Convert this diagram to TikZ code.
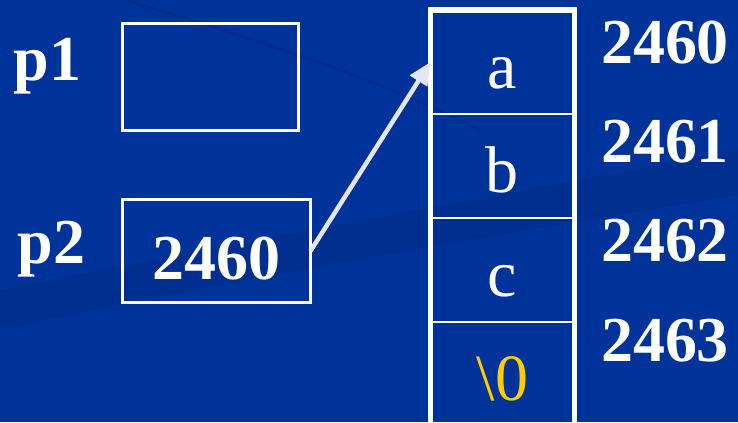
\documentclass[tikz,border=0pt]{standalone}
\usepackage{fontspec}
\setmainfont{Liberation Serif}
\usetikzlibrary{positioning,arrows.meta}
\definecolor{slideblue}{RGB}{0,51,153}
\definecolor{swooshblue}{RGB}{0,40,130}
\definecolor{arrowlav}{RGB}{230,230,250}
\definecolor{nulgold}{RGB}{255,204,0}

\begin{document}
\begin{tikzpicture}[x=0.025cm, y=-0.025cm,
  every node/.style={text=white},
  big/.style={font=\fontsize{45.5pt}{50pt}\selectfont\bfseries},
  ptrbox/.style={draw=white, line width=2.1pt, inner sep=0pt, outer sep=0pt, text height=1.99cm, text depth=0.59cm},
  cell/.style={draw=white, line width=1.4pt, inner sep=0pt, outer sep=0pt, minimum width=3.6cm, minimum height=2.6cm, text height=1.95cm, text depth=0.65cm, font=\fontsize{47pt}{50pt}\selectfont}]
% Background
\fill[slideblue] (0,0) rectangle (738,422);
\useasboundingbox (0,0) rectangle (738,422);
\fill[swooshblue, opacity=0.35] (0,330) .. controls (250,275) and (500,235) .. (738,195)
  -- (738,150) .. controls (500,195) and (250,240) .. (0,290) -- cycle;
\draw[swooshblue, line width=2pt, opacity=0.5] (125,0) .. controls (260,40) and (380,80) .. (480,130);
% Pointers
\node[ptrbox, minimum width=4.4cm, minimum height=2.675cm] (p1box) at (210.5,77) {};
\node[ptrbox, big, minimum width=4.7cm] (p2box) at (216.5,251) {2460};
\node[big, anchor=base] (p1) at (47.5,80) {p1};
\node[big, anchor=base] (p2) at (51.5,263) {p2};
% Memory cells
\node[cell] (m1) at (502.5,62) {a};
\node[cell, below=0pt of m1] (m2) {b};
\node[cell, below=0pt of m2] (m3) {c};
\node[cell, below=0pt of m3, text=nulgold] (m4) {\textbackslash 0};
\draw[white, line width=3.6pt] (m1.north west) rectangle (m4.south east);
% Addresses
\node[big, anchor=base] (a0) at (665,63) {2460};
\node[big, anchor=base] (a1) at (665,162) {2461};
\node[big, anchor=base] (a2) at (665,261) {2462};
\node[big, anchor=base] (a3) at (665,361) {2463};
% Edges
\draw[arrowlav, line width=3.2pt, -{Triangle[length=16pt,width=14pt]}] (p2box.east) -- (m1.west);
\end{tikzpicture}
\end{document}
